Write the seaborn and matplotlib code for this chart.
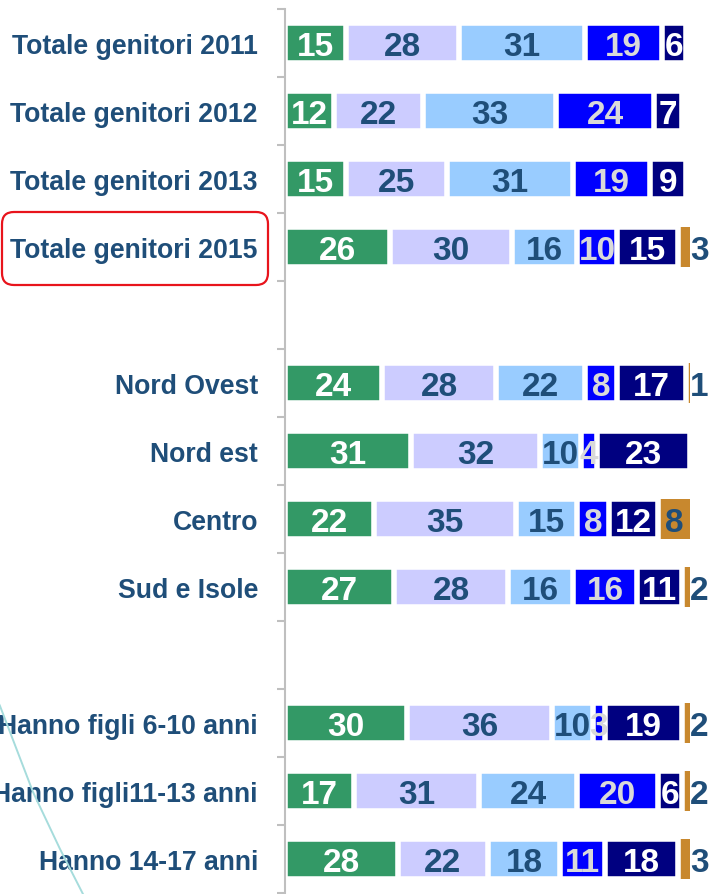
# Stacked horizontal bars: genitori survey (2011-2015, area, age of children)

import pandas as pd
import matplotlib.pyplot as plt
import seaborn as sns
from matplotlib.patches import FancyBboxPatch
from matplotlib.lines import Line2D

rows = ["Totale genitori 2011", "Totale genitori 2012", "Totale genitori 2013",
        "Totale genitori 2015", "gap1",
        "Nord Ovest", "Nord est", "Centro", "Sud e Isole", "gap2",
        "Hanno figli 6-10 anni", "Hanno figli11-13 anni", "Hanno 14-17 anni"]

s1 = [15, 12, 15, 26, None, 24, 31, 22, 27, None, 30, 17, 28]
s2 = [28, 22, 25, 30, None, 28, 32, 35, 28, None, 36, 31, 22]
s3 = [31, 33, 31, 16, None, 22, 10, 15, 16, None, 10, 24, 18]
s4 = [19, 24, 19, 10, None, 8, 4, 8, 16, None, 3, 20, 11]
s5 = [6, 7, 9, 15, None, 17, 23, 12, 11, None, 19, 6, 18]
s6 = [0, 0, 0, 3, None, 1, 0, 8, 2, None, 2, 2, 3]

series = [s1, s2, s3, s4, s5, s6]
colors = ["#339966", "#CCCCFF", "#99CCFF", "#0000FF", "#000080", "#C8882E"]
text_colors = ["white", "#1F4E79", "#1F4E79", "#D9D9D9", "white", "#1F4E79"]

df = pd.DataFrame({"row": rows})
for i, s in enumerate(series):
    df[f"s{i+1}"] = pd.to_numeric(pd.Series(s), errors="coerce")
cols = [f"s{i+1}" for i in range(6)]
cum = df[cols].cumsum(axis=1)

sns.set_theme(style="white")
plt.rcParams["font.family"] = ["Liberation Sans", "DejaVu Sans"]

fig = plt.figure(figsize=(7.12, 8.95), dpi=100)
ax = fig.add_axes([285 / 712, 1 / 895, 427 / 712, 884 / 895])

# draw cumulative totals from the largest down, each one covering the next
for i in range(5, -1, -1):
    edge = "white" if i < 5 else colors[i]
    lw = 4 if i < 5 else 0
    sns.barplot(x=cum[cols[i]], y=df["row"], order=rows, orient="h",
                color=colors[i], width=0.58, edgecolor=edge, linewidth=lw,
                saturation=1, errorbar=None, ax=ax)

# value labels
for r in range(len(rows)):
    if pd.isna(df.loc[r, "s1"]):
        continue
    for i in range(6):
        v = df.loc[r, cols[i]]
        if v == 0:
            continue
        end = cum.loc[r, cols[i]]
        if i == 5 and v < 5:
            ax.text(end, r, f"{int(v)}", ha="left", va="center_baseline",
                    fontsize=24, fontweight="bold", color=text_colors[i],
                    clip_on=False)
        else:
            ax.text(end - v / 2, r, f"{int(v)}", ha="center",
                    va="center_baseline", fontsize=24, fontweight="bold",
                    color=text_colors[i], clip_on=False)

ax.set_xlim(0, 105.4)
ax.set_ylim(12.5, -0.5)
ax.set_xlabel("")
ax.set_ylabel("")
ax.set_xticks([])
ax.set_yticks(range(len(rows)))
ax.set_yticklabels([("" if r.startswith("gap") else r) for r in rows],
                   fontsize=19.2, fontweight="bold", color="#1F4E79")
ax.set_yticks([y - 0.5 for y in range(len(rows) + 1)], minor=True)
ax.tick_params(axis="y", which="major", length=0, pad=19.5)
ax.tick_params(axis="y", which="minor", length=6, width=1.5, color="#BFBFBF",
               direction="out", left=True)
for side in ["top", "right", "bottom"]:
    ax.spines[side].set_visible(False)
ax.spines["left"].set_color("#BFBFBF")
ax.spines["left"].set_linewidth(1.5)

# red rounded box around the 2015 label
box = FancyBboxPatch((0.02, (895 - 286) / 100), 2.66, 0.73,
                     boxstyle="round,pad=0,rounding_size=0.12",
                     transform=fig.dpi_scale_trans, fill=False,
                     edgecolor="#E8141C", linewidth=1.6)
fig.add_artist(box)

# decorative teal curve bottom left
curve = Line2D([-0.05, 0.0, 0.33, 0.60, 0.85], [1.99, 1.88, 1.02, 0.45, -0.04],
               transform=fig.dpi_scale_trans, color="#A6DCDC", linewidth=1.4)
fig.add_artist(curve)

plt.savefig("out.png", dpi=100)
plt.close()
